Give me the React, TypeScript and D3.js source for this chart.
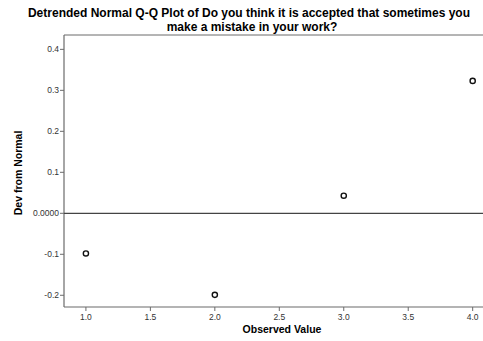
import React from "react";
import { scaleLinear } from "d3";

const observed = [1, 2, 3, 4];
const devFromNormal = [-0.098, -0.199, 0.043, 0.323];
const xTicks = [1.0, 1.5, 2.0, 2.5, 3.0, 3.5, 4.0];
const yTicks = [-0.2, -0.1, 0.0, 0.1, 0.2, 0.3, 0.4];

const width = 483;
const height = 341;
const margin = { top: 35, right: 0, bottom: 34, left: 64 };

const App = () => {
  const x = scaleLinear().domain([0.83, 4.08]).range([margin.left, width - margin.right]);
  const y = scaleLinear().domain([-0.2286, 0.435]).range([height - margin.bottom, margin.top]);

  const font = "'Liberation Sans', Arial, sans-serif";
  const axisColor = "#6b6b6b";

  return (
    <svg
      width={width}
      height={height}
      style={{ position: "absolute", left: 0, top: 0, background: "#fff" }}
    >
      <text x={249} y={16.6} textAnchor="middle" fontFamily={font} fontWeight="bold" fontSize={12}>
        Detrended Normal Q-Q Plot of Do you think it is accepted that sometimes you
      </text>
      <text x={252} y={30.6} textAnchor="middle" fontFamily={font} fontWeight="bold" fontSize={12}>
        make a mistake in your work?
      </text>

      {/* frame */}
      <line x1={margin.left} x2={width} y1={margin.top} y2={margin.top} stroke={axisColor} strokeWidth={1} />
      <line x1={margin.left} x2={margin.left} y1={margin.top} y2={height - margin.bottom} stroke={axisColor} strokeWidth={1.2} />
      <line x1={margin.left} x2={width} y1={height - margin.bottom} y2={height - margin.bottom} stroke={axisColor} strokeWidth={1.2} />

      {/* zero line */}
      <line x1={margin.left} x2={width} y1={y(0)} y2={y(0)} stroke="#444" strokeWidth={1.2} />

      {yTicks.map((t) => (
        <g key={t}>
          <line x1={margin.left - 4} x2={margin.left} y1={y(t)} y2={y(t)} stroke={axisColor} />
          <text
            x={margin.left - 5}
            y={y(t) + 3}
            textAnchor="end"
            fontFamily={font}
            fontSize={8.5}
            fill="#333"
          >
            {t === 0 ? "0.0000" : t.toFixed(1)}
          </text>
        </g>
      ))}

      {xTicks.map((t) => (
        <g key={t}>
          <line x1={x(t)} x2={x(t)} y1={height - margin.bottom} y2={height - margin.bottom + 4} stroke={axisColor} />
          <text
            x={x(t)}
            y={height - margin.bottom + 13}
            textAnchor="middle"
            fontFamily={font}
            fontSize={8.5}
            fill="#333"
          >
            {t.toFixed(1)}
          </text>
        </g>
      ))}

      <text
        x={282}
        y={333}
        textAnchor="middle"
        fontFamily={font}
        fontWeight="bold"
        fontSize={10.5}
      >
        Observed Value
      </text>
      <text
        transform={`translate(22, 173) rotate(-90)`}
        textAnchor="middle"
        fontFamily={font}
        fontWeight="bold"
        fontSize={10.5}
      >
        Dev from Normal
      </text>

      {observed.map((o, i) => (
        <circle
          key={o}
          cx={x(o)}
          cy={y(devFromNormal[i])}
          r={2.6}
          fill="none"
          stroke="#111"
          strokeWidth={1.4}
        />
      ))}
    </svg>
  );
};

export default App;
